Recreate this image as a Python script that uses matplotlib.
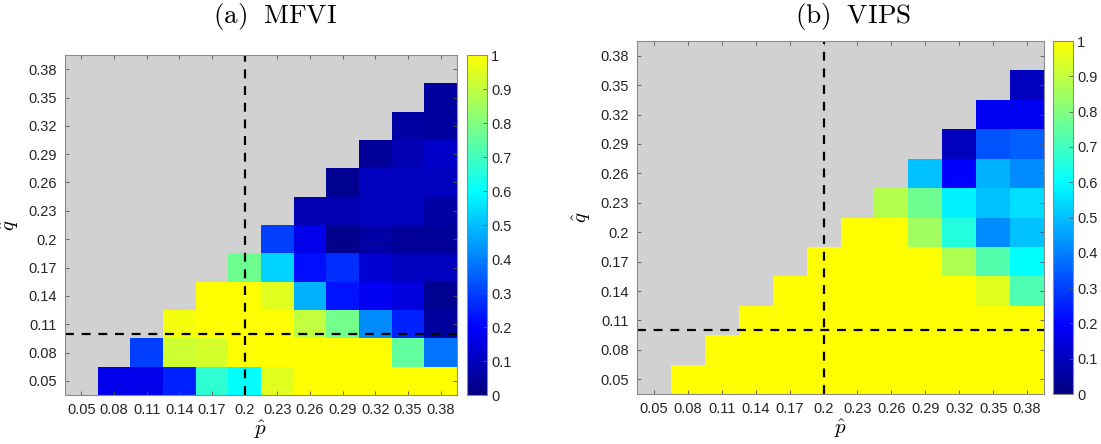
import numpy as np
import matplotlib
matplotlib.use("Agg")
import matplotlib.pyplot as plt
from matplotlib.colors import LinearSegmentedColormap

plt.rcParams['font.family'] = ['Liberation Sans', 'DejaVu Sans']
plt.rcParams['mathtext.fontset'] = 'cm'

p_vals = [0.05, 0.08, 0.11, 0.14, 0.17, 0.2, 0.23, 0.26, 0.29, 0.32, 0.35, 0.38]
q_vals = [0.05, 0.08, 0.11, 0.14, 0.17, 0.2, 0.23, 0.26, 0.29, 0.32, 0.35, 0.38]
tick_labels = ['0.05', '0.08', '0.11', '0.14', '0.17', '0.2', '0.23', '0.26', '0.29', '0.32', '0.35', '0.38']
cbar_ticks = [0, 0.1, 0.2, 0.3, 0.4, 0.5, 0.6, 0.7, 0.8, 0.9, 1]
cbar_labels = ['0', '0.1', '0.2', '0.3', '0.4', '0.5', '0.6', '0.7', '0.8', '0.9', '1']
titles = [r'$\mathrm{(a)}\ \ \mathrm{MFVI}$', r'$\mathrm{(b)}\ \ \mathrm{VIPS}$']
p_ref = 0.2
q_ref = 0.1

N = np.nan
# rows: q from 0.05 (bottom) to 0.38 (top); columns: p from 0.05 to 0.38
mfvi = [
    [N, 0.17, 0.17, 0.25, 0.67, 0.60, 0.95, 1.00, 1.00, 1.00, 1.00, 1.00],
    [N, N, 0.30, 0.92, 0.93, 1.00, 1.00, 1.00, 1.00, 1.00, 0.75, 0.38],
    [N, N, N, 0.98, 1.00, 1.00, 1.00, 0.90, 0.78, 0.42, 0.25, 0.05],
    [N, N, N, N, 1.00, 1.00, 0.95, 0.48, 0.23, 0.18, 0.15, 0.03],
    [N, N, N, N, N, 0.77, 0.53, 0.22, 0.27, 0.13, 0.10, 0.10],
    [N, N, N, N, N, N, 0.30, 0.17, 0.02, 0.06, 0.04, 0.04],
    [N, N, N, N, N, N, N, 0.08, 0.08, 0.10, 0.10, 0.06],
    [N, N, N, N, N, N, N, N, 0.03, 0.10, 0.10, 0.10],
    [N, N, N, N, N, N, N, N, N, 0.04, 0.08, 0.12],
    [N, N, N, N, N, N, N, N, N, N, 0.06, 0.05],
    [N, N, N, N, N, N, N, N, N, N, N, 0.05],
    [N, N, N, N, N, N, N, N, N, N, N, N],
]
vips = [
    [N, 1.00, 1.00, 1.00, 1.00, 1.00, 1.00, 1.00, 1.00, 1.00, 1.00, 1.00],
    [N, N, 1.00, 1.00, 1.00, 1.00, 1.00, 1.00, 1.00, 1.00, 1.00, 1.00],
    [N, N, N, 1.00, 1.00, 1.00, 1.00, 1.00, 1.00, 1.00, 1.00, 1.00],
    [N, N, N, N, 1.00, 1.00, 1.00, 1.00, 1.00, 1.00, 0.95, 0.72],
    [N, N, N, N, N, 1.00, 1.00, 1.00, 1.00, 0.87, 0.73, 0.60],
    [N, N, N, N, N, N, 1.00, 1.00, 0.85, 0.65, 0.42, 0.50],
    [N, N, N, N, N, N, N, 0.88, 0.77, 0.58, 0.50, 0.55],
    [N, N, N, N, N, N, N, N, 0.50, 0.20, 0.48, 0.42],
    [N, N, N, N, N, N, N, N, N, 0.10, 0.33, 0.35],
    [N, N, N, N, N, N, N, N, N, N, 0.18, 0.18],
    [N, N, N, N, N, N, N, N, N, N, N, 0.10],
    [N, N, N, N, N, N, N, N, N, N, N, N],
]

# MATLAB-jet segment from navy to yellow
cmap = LinearSegmentedColormap.from_list(
    'jetpart', [(0.0, (0, 0, 0.5)), (0.2, (0, 0, 1)), (0.6, (0, 1, 1)), (1.0, (1, 1, 0))])
cmap.set_bad('#d1d1d1')

fig = plt.figure(figsize=(11.01, 4.44), dpi=100)
W, H = 1101, 444

def fx(x):
    return x / W

def fy(y):
    return 1 - y / H

layouts = [
    dict(ax=(65, 55, 457, 395), cb=(467, 55, 487, 395), title_x=275),
    dict(ax=(637, 41, 1044, 394), cb=(1053, 41, 1073, 394), title_x=853),
]
datas = [mfvi, vips]

step = p_vals[1] - p_vals[0]
xedges = np.concatenate([[p_vals[0] - step / 2], np.array(p_vals) + step / 2])
yedges = np.concatenate([[q_vals[0] - step / 2], np.array(q_vals) + step / 2])

tc = '#262626'
for k in range(2):
    L = layouts[k]
    x0, y0, x1, y1 = L['ax']
    ax = fig.add_axes([fx(x0), fy(y1), fx(x1 - x0), (y1 - y0) / H])
    Z = np.ma.masked_invalid(np.array(datas[k], dtype=float))
    mesh = ax.pcolormesh(xedges, yedges, Z, cmap=cmap, vmin=0, vmax=1)
    ax.set_facecolor('#d1d1d1')
    ax.axvline(p_ref, color='black', linestyle=(0, (4, 3.5)), linewidth=1.6)
    ax.axhline(q_ref, color='black', linestyle=(0, (4, 3.5)), linewidth=1.6)
    ax.set_xlim(xedges[0], xedges[-1])
    ax.set_ylim(yedges[0], yedges[-1])
    ax.set_xticks(p_vals)
    ax.set_xticklabels(tick_labels)
    ax.set_yticks(q_vals)
    ax.set_yticklabels(tick_labels)
    ax.tick_params(direction='in', length=3, width=0.6, color='#555555',
                   labelsize=10.5, labelcolor=tc, top=True, right=True, pad=6)
    for s in ax.spines.values():
        s.set_color('#8c8c8c')
        s.set_linewidth(0.8)
    ax.set_xlabel(r'$\hat{p}$', fontsize=15, labelpad=1)
    ax.set_ylabel(r'$\hat{q}$', fontsize=15, labelpad=5)

    cx0, cy0, cx1, cy1 = L['cb']
    cax = fig.add_axes([fx(cx0), fy(cy1), fx(cx1 - cx0), (cy1 - cy0) / H])
    cb = fig.colorbar(mesh, cax=cax, ticks=cbar_ticks)
    cb.ax.set_yticklabels(cbar_labels)
    cb.ax.tick_params(direction='in', length=3, width=0.6, color='#555555',
                      labelsize=10.5, labelcolor=tc, pad=3)
    cb.outline.set_edgecolor('#8c8c8c')
    cb.outline.set_linewidth(0.8)

    fig.text(fx(L['title_x']), fy(23), titles[k], ha='center', va='baseline', fontsize=19.5)

fig.savefig('out.png', dpi=100)
